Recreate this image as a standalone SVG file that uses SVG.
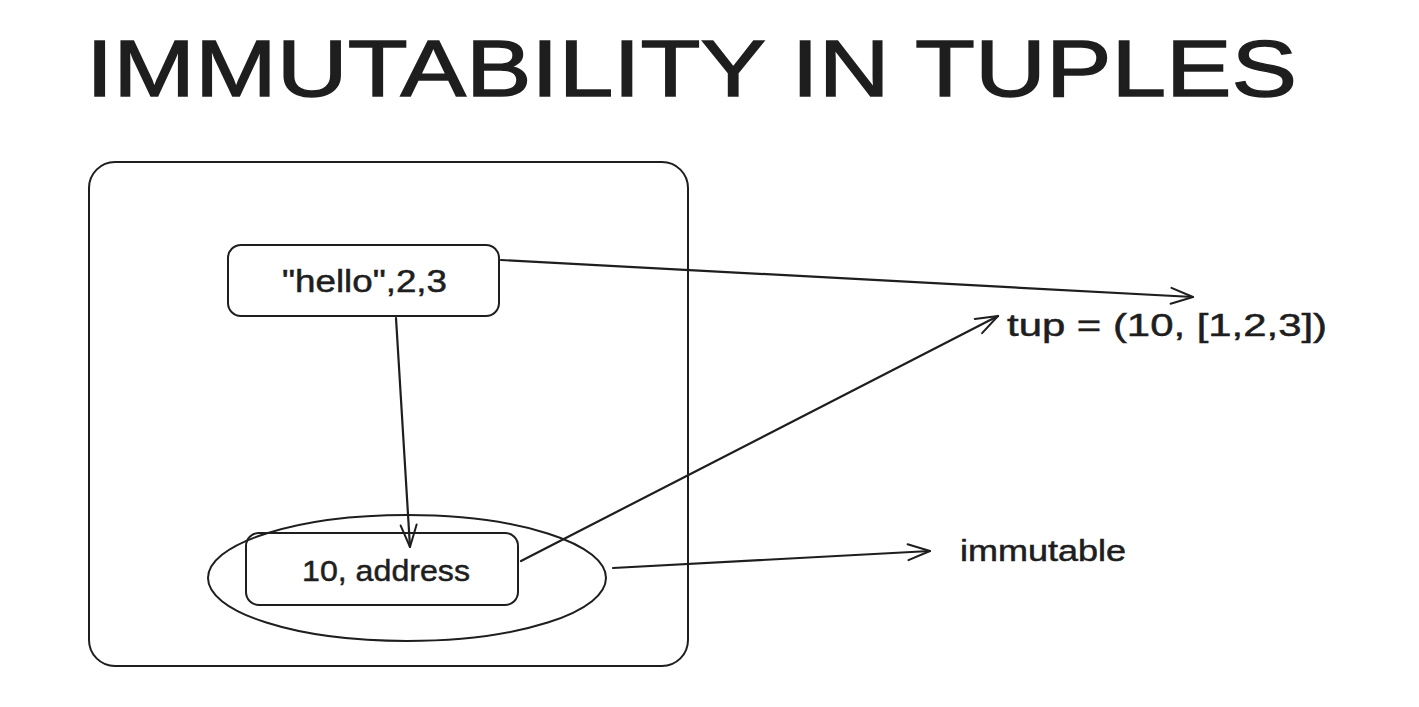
<svg xmlns="http://www.w3.org/2000/svg" width="1419" height="707" viewBox="0 0 1419 707">
<style>
.shape{fill:none;stroke:#1e1e1e;stroke-width:2;stroke-linecap:round;stroke-linejoin:round}
.conn{fill:none;stroke:#1e1e1e;stroke-width:2.2;stroke-linecap:round}
.lbl{font-family:"Liberation Sans","DejaVu Sans",sans-serif;fill:#1e1e1e;stroke:#1e1e1e;stroke-width:0.5}
.title{stroke-width:1.4}
</style>
<defs>
<marker id="arr" markerWidth="30" markerHeight="20" refX="24" refY="10" orient="auto" markerUnits="userSpaceOnUse">
<path d="M2,2 L24,10 L2,18" fill="none" stroke="#1e1e1e" stroke-width="2" stroke-linecap="round" stroke-linejoin="round"/>
</marker>
</defs>
<rect width="1419" height="707" fill="#ffffff"/>
<text class="lbl title" x="86" y="96" font-size="80" textLength="1211" lengthAdjust="spacingAndGlyphs">IMMUTABILITY IN TUPLES</text>
<g id="container">
<rect class="shape" x="89" y="162" width="599" height="504" rx="26"/>
</g>
<g id="hello">
<rect class="shape" x="228" y="245" width="271" height="71" rx="13"/>
<text class="lbl" x="282" y="292" font-size="31" textLength="165" lengthAdjust="spacingAndGlyphs">"hello",2,3</text>
</g>
<g id="ellipse">
<ellipse class="shape" cx="407" cy="578" rx="199" ry="63"/>
</g>
<g id="address">
<rect class="shape" x="246" y="533" width="272" height="72" rx="13"/>
<text class="lbl" x="302" y="581" font-size="30" textLength="168" lengthAdjust="spacingAndGlyphs">10, address</text>
</g>
<g id="tup">
<text class="lbl" x="1007" y="336" font-size="32" textLength="320" lengthAdjust="spacingAndGlyphs">tup = (10, [1,2,3])</text>
</g>
<g id="immutable">
<text class="lbl" x="960" y="561" font-size="29" textLength="166" lengthAdjust="spacingAndGlyphs">immutable</text>
</g>
<g id="connectors">
<line class="conn" x1="501" y1="260" x2="1193" y2="297" marker-end="url(#arr)"/>
<line class="conn" x1="396" y1="318" x2="410" y2="547" marker-end="url(#arr)"/>
<line class="conn" x1="521" y1="561" x2="998" y2="316" marker-end="url(#arr)"/>
<line class="conn" x1="613" y1="568" x2="930" y2="551" marker-end="url(#arr)"/>
</g>
</svg>
